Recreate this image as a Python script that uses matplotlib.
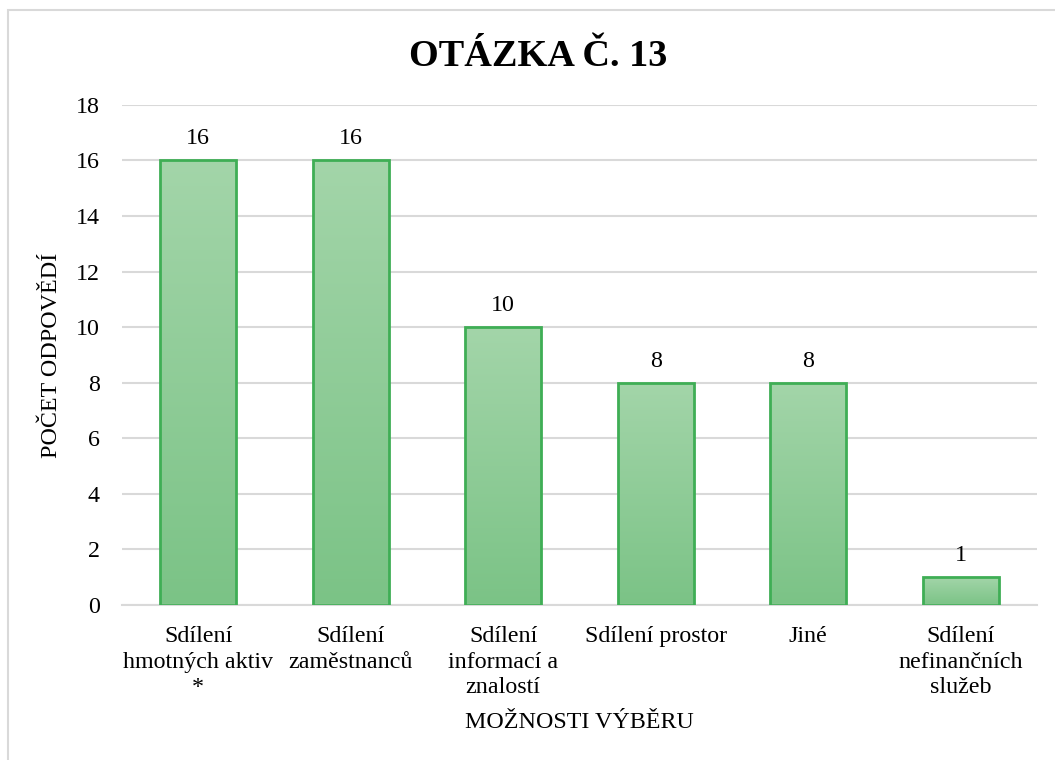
import numpy as np
import matplotlib.pyplot as plt
from matplotlib.colors import LinearSegmentedColormap
from matplotlib.patches import Rectangle

plt.rcParams['font.family'] = ['Liberation Serif', 'DejaVu Serif']

categories = ['Sdílení\nhmotných aktiv\n*', 'Sdílení\nzaměstnanců', 'Sdílení\ninformací a\nznalostí',
              'Sdílení prostor', 'Jiné', 'Sdílení\nnefinančních\nslužeb']
values = [16, 16, 10, 8, 8, 1]
yticks = [0, 2, 4, 6, 8, 10, 12, 14, 16, 18]

fs = 17.3

fig = plt.figure(figsize=(10.55, 7.6), dpi=100)
ax = fig.add_axes([0.1156, 0.204, 0.8674, 0.658])

x = np.arange(len(values))
bars = ax.bar(x, values, width=0.5, color='none', edgecolor='#3fae55', linewidth=2, zorder=3)

# vertical gradient fill, light at top, darker at bottom
cmap = LinearSegmentedColormap.from_list('g', ['#7bc386', '#a3d5a9'])
grad = np.linspace(0, 1, 256).reshape(-1, 1)
for b in bars:
    x0, w, h = b.get_x(), b.get_width(), b.get_height()
    im = ax.imshow(grad, cmap=cmap, origin='lower', aspect='auto',
                   extent=[x0, x0 + w, 0, h], zorder=2)
    im.set_clip_path(Rectangle((x0, 0), w, h, transform=ax.transData))

for xi, v in zip(x, values):
    ax.annotate(str(v), (xi, v), xytext=(0, 8), textcoords='offset points',
                ha='center', va='bottom', fontsize=fs, zorder=4)

ax.set_xlim(-0.5, len(values) - 0.5)
ax.set_ylim(0, 18)
ax.set_yticks(yticks)
ax.set_xticks(x)
ax.set_xticklabels(categories, fontsize=fs, linespacing=1.3)
ax.tick_params(axis='y', labelsize=fs, length=0, pad=16)
ax.tick_params(axis='x', length=0, pad=15)
ax.yaxis.grid(True, color='#d9d9d9', linewidth=1.5, zorder=0)
ax.set_axisbelow(True)
for s in ['top', 'right', 'left']:
    ax.spines[s].set_visible(False)
ax.spines['bottom'].set_color('#d9d9d9')
ax.spines['bottom'].set_linewidth(1.5)

ax.set_xlabel('MOŽNOSTI VÝBĚRU', fontsize=fs, labelpad=10)
ax.set_ylabel('POČET ODPOVĚDÍ', fontsize=fs, labelpad=10)
fig.text(0.51, 0.926, 'OTÁZKA Č. 13', ha='center', va='center', fontsize=27.5, fontweight='bold')

# chart-area frame, cropped on the right and bottom like the source image
fig.patches.append(Rectangle((8 / 1055, -0.05), 1.1, 1.05 - 10 / 760, transform=fig.transFigure,
                             fill=False, edgecolor='#d9d9d9', linewidth=1.5))

fig.savefig('out.png', dpi=100)
